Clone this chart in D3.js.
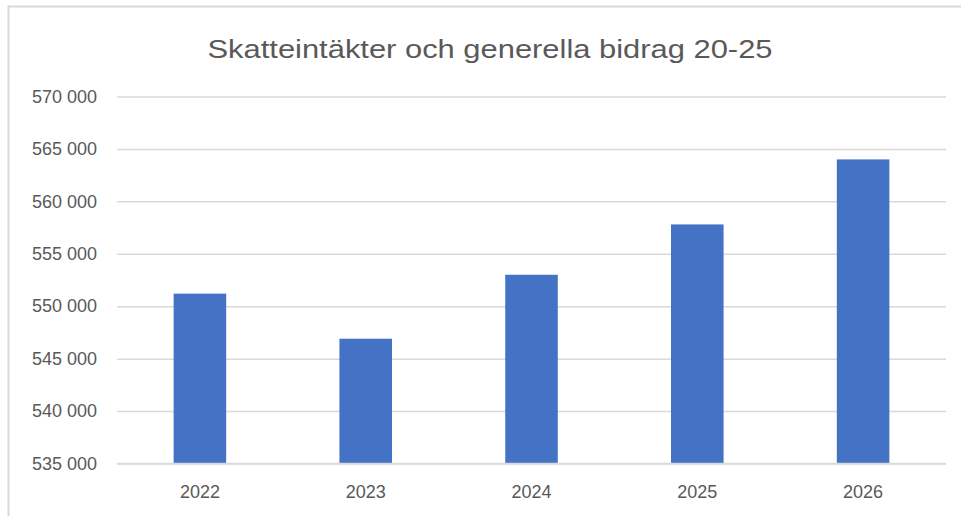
<!DOCTYPE html>
<html>
<head>
<meta charset="utf-8">
<script src="https://cdn.jsdelivr.net/npm/d3@7"></script>
<style>
  body { margin: 0; background: #fff; }
  svg { display: block; }
</style>
</head>
<body>
<script>
// data
var years = ["2022", "2023", "2024", "2025", "2026"];
var values = [551200, 546900, 553000, 557800, 564000];
var yTicks = [535000, 540000, 545000, 550000, 555000, 560000, 565000, 570000];
var title = "Skatteintäkter och generella bidrag 20-25";

var width = 961, height = 516;
var plotLeft = 117, plotRight = 946, plotTop = 96.5, plotBottom = 463.5;

var svg = d3.select("body").append("svg")
    .attr("width", width)
    .attr("height", height);

// chart frame
svg.append("rect")
    .attr("x", 8.5).attr("y", 6.5)
    .attr("width", width).attr("height", height)
    .attr("fill", "#fff")
    .attr("stroke", "#d9d9d9")
    .attr("stroke-width", 2);

var x = d3.scaleBand()
    .domain(years)
    .range([plotLeft, plotRight])
    .paddingInner(0.683)
    .paddingOuter(0.3415);

var y = d3.scaleLinear()
    .domain([535000, 570000])
    .range([plotBottom, plotTop]);

var fmt = function(d) { return d3.format(",")(d).replace(/,/g, " "); };

// gridlines + y labels
var yAxis = d3.axisLeft(y)
    .tickValues(yTicks)
    .tickSize(-(plotRight - plotLeft))
    .tickPadding(20)
    .tickFormat(fmt);

var gy = svg.append("g")
    .attr("transform", "translate(" + plotLeft + ",0)")
    .call(yAxis);
gy.select(".domain").remove();
gy.selectAll(".tick line").attr("stroke", "#d9d9d9").attr("stroke-width", 1.5);
gy.selectAll(".tick text")
    .attr("fill", "#595959")
    .attr("font-family", "'Liberation Sans', Arial, sans-serif")
    .attr("font-size", 18);

// bars
svg.append("g").selectAll("rect")
    .data(values)
    .enter().append("rect")
    .attr("x", function(d, i) { return x(years[i]); })
    .attr("width", x.bandwidth())
    .attr("y", function(d) { return y(d); })
    .attr("height", function(d) { return y(535000) - y(d); })
    .attr("fill", "#4472c4");

// x axis labels
var xAxis = d3.axisBottom(x).tickSize(0).tickPadding(22);
var gx = svg.append("g")
    .attr("transform", "translate(0," + plotBottom + ")")
    .call(xAxis);
gx.select(".domain").remove();
gx.selectAll(".tick text")
    .attr("fill", "#595959")
    .attr("font-family", "'Liberation Sans', Arial, sans-serif")
    .attr("font-size", 18);

// bottom axis line
svg.append("line")
    .attr("x1", plotLeft).attr("x2", plotRight)
    .attr("y1", plotBottom).attr("y2", plotBottom)
    .attr("stroke", "#d9d9d9").attr("stroke-width", 1.5);

// title
svg.append("text")
    .attr("x", 490)
    .attr("y", 58)
    .attr("text-anchor", "middle")
    .attr("fill", "#595959")
    .attr("font-family", "'Liberation Sans', Arial, sans-serif")
    .attr("font-size", 26)
    .attr("textLength", 565)
    .attr("lengthAdjust", "spacingAndGlyphs")
    .text(title);
</script>
</body>
</html>
